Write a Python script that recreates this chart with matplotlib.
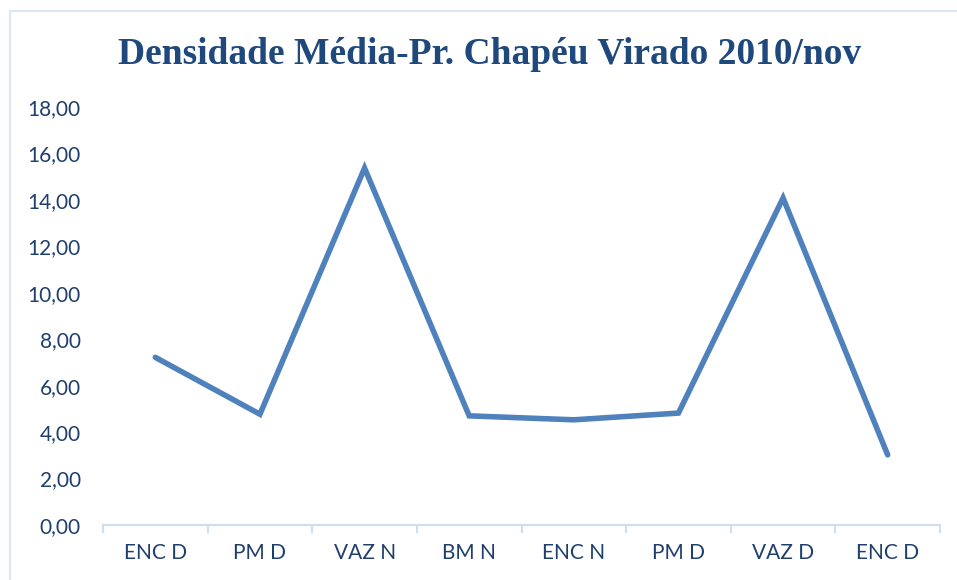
import matplotlib.pyplot as plt
from matplotlib.lines import Line2D
from matplotlib.ticker import FuncFormatter

categories = ["ENC D", "PM D", "VAZ N", "BM N", "ENC N", "PM D", "VAZ D", "ENC D"]
densidade = [7.22, 4.77, 15.37, 4.70, 4.53, 4.82, 14.08, 3.02]

title_color = "#1F497D"
text_color = "#1F3F6E"
line_color = "#4F81BD"
axis_color = "#D0DDF0"


def main():
    fig = plt.figure(figsize=(9.57, 5.80), dpi=100)
    ax = fig.add_axes([103 / 957, 1 - 525 / 580, (940 - 103) / 957, (525 - 107) / 580])

    x = list(range(len(categories)))
    ax.plot(x, densidade, color=line_color, linewidth=4.0, solid_capstyle="round",
            solid_joinstyle="miter")

    ax.set_xlim(-0.5, len(categories) - 0.5)
    ax.set_ylim(0, 18)
    ax.set_yticks(range(0, 19, 2))
    ax.yaxis.set_major_formatter(FuncFormatter(lambda v, p: f"{v:.2f}".replace(".", ",")))
    ax.set_xticks(x)
    ax.set_xticklabels(categories)

    for side in ["top", "right", "left"]:
        ax.spines[side].set_visible(False)
    ax.spines["bottom"].set_color(axis_color)
    ax.spines["bottom"].set_linewidth(1.5)

    ax.tick_params(axis="y", length=0, pad=16, labelsize=15, labelcolor=text_color)
    ax.tick_params(axis="x", length=0, pad=13, labelsize=15, labelcolor=text_color)
    for lab in ax.get_xticklabels() + ax.get_yticklabels():
        lab.set_family(["Lato", "DejaVu Sans"])

    # category boundary tick marks
    for b in range(len(categories) + 1):
        ax.plot([b - 0.5, b - 0.5], [0, -0.3], color=axis_color, lw=1.5, clip_on=False)

    fig.text(0.512, 1 - 55 / 580, "Densidade Média-Pr. Chapéu Virado 2010/nov",
             ha="center", va="center", fontsize=27, fontweight="bold",
             family="Liberation Serif", color=title_color)

    # chart border (top and left edges visible)
    fig.add_artist(Line2D([10 / 957, 1], [1 - 11 / 580, 1 - 11 / 580],
                          color="#DCE6F4", lw=1.5, transform=fig.transFigure))
    fig.add_artist(Line2D([10 / 957, 10 / 957], [0, 1 - 11 / 580],
                          color="#DCE6F4", lw=1.5, transform=fig.transFigure))

    fig.savefig("out.png", dpi=100)


if __name__ == "__main__":
    main()
